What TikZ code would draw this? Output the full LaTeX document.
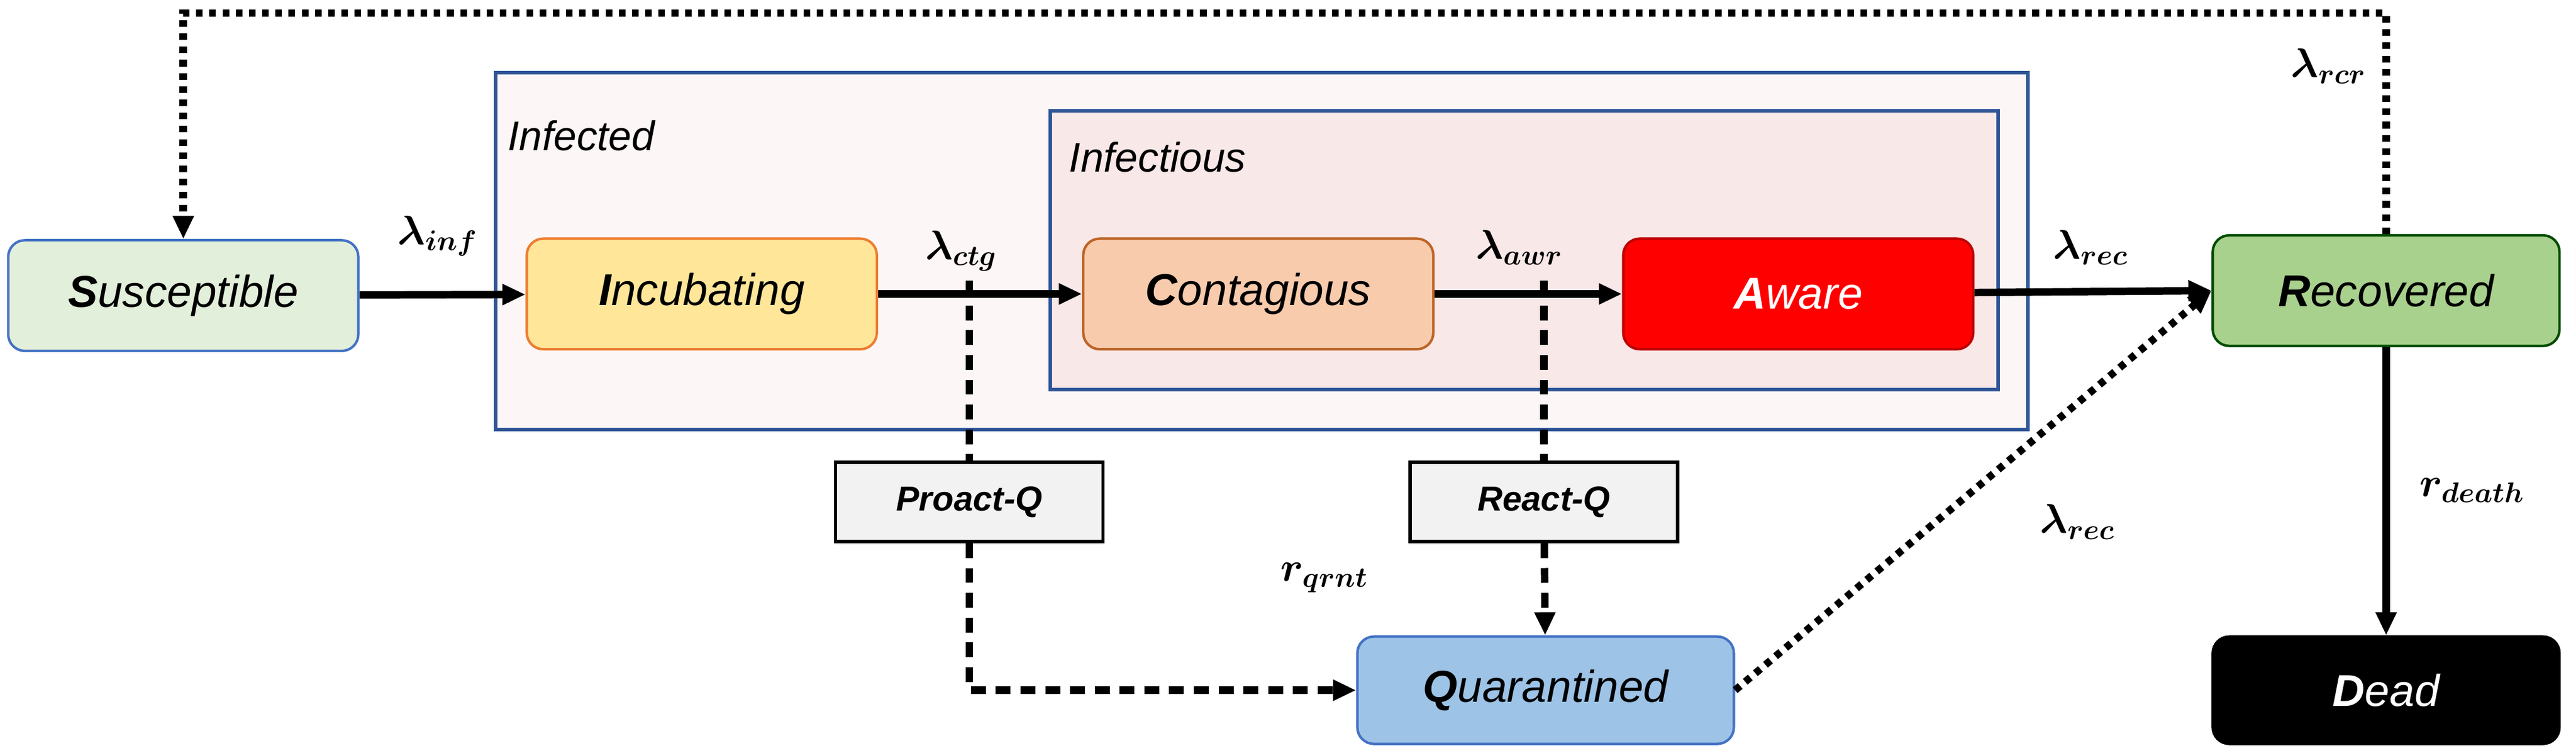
\documentclass[tikz,border=0pt]{standalone}
\usepackage{fontspec}
\setmainfont{Liberation Sans}
\usetikzlibrary{positioning}
\usetikzlibrary{arrows.meta}
\definecolor{susceptible colour}{HTML}{E2EFDA}
\definecolor{incubating colour}{HTML}{FFE699}
\definecolor{contagious colour}{HTML}{F8CBAD}
\definecolor{recovered colour}{HTML}{A9D18E}
\definecolor{quarantined colour}{HTML}{9DC3E6}
\definecolor{infected colour}{HTML}{FDF6F6}
\definecolor{infectious colour}{HTML}{F9E8E8}
\definecolor{group border}{HTML}{2F5597}
\definecolor{light border}{HTML}{4472C4}
\definecolor{orange border}{HTML}{ED7D31}
\tikzset{
    % Arrow shape used everywhere
    >={Triangle[length=14pt, width=12pt]},
%
    % State boxes
    state/.style={
        draw, rounded corners=10pt, line width=1.5pt, minimum width=212pt, minimum height=67pt,
        font=\fontsize{27}{32}\selectfont\itshape},
    policy/.style={
        draw, line width=2pt, fill=black!5, minimum width=162pt, minimum height=48pt,
        font=\fontsize{21}{25}\selectfont\bfseries\itshape},
    group/.style={draw=group border, line width=2.2pt},
    group label/.style={anchor=west, font=\fontsize{25}{30}\selectfont\itshape},
    rate/.style={font=\fontsize{27}{32}\selectfont\boldmath},
%
    % Lines
    flow/.style={line width=4.5pt, ->},
    quarantine/.style={line width=4.5pt, dash pattern=on 9pt off 6pt, ->},
    recur/.style={line width=4.5pt, dash pattern=on 4pt off 4pt, ->},
}
\begin{document}
\begin{tikzpicture}[x=1pt, y=-1pt]
    \useasboundingbox (0,0) rectangle (1560,456);

    % Groups
    \draw [group, fill=infected colour] (300,44) rectangle (1228,260);
    \draw [group, fill=infectious colour] (636,67) rectangle (1210,236);
    \node [group label] (infected label) at (304,82) {Infected};
    \node [group label] (infectious label) at (644,95) {Infectious};

    % States
    \node [state, fill=susceptible colour, draw=light border] (S) at (111,179)
        {\textbf{S}usceptible};
    \node [state, fill=incubating colour, draw=orange border] (I) at (425,178)
        {\textbf{I}ncubating};
    \node [state, fill=contagious colour, draw=orange border!80!black] (C) at (762,178)
        {\textbf{C}ontagious};
    \node [state, fill=red, draw=red!75!black, text=white] (A) at (1089,178)
        {\textbf{A}ware};
    \node [state, fill=recovered colour, draw=black!70!green, minimum width=210pt] (R) at (1445,176)
        {\textbf{R}ecovered};
    \node [state, fill=black, text=white, minimum width=210pt, minimum height=65pt] (D) at (1445,418)
        {\textbf{D}ead};
    \node [state, fill=quarantined colour, draw=light border, minimum width=228pt, minimum height=65pt] (Q) at (936,418)
        {\textbf{Q}uarantined};

    % Policies
    \node [policy] (proact) at (587,304) {Proact-Q};
    \node [policy] (react) at (935,304) {React-Q};

    % Main flow
    \draw [flow] (S) -- (I);
    \draw [flow] (I) -- (C);
    \draw [flow] (C) -- (A);
    \draw [flow] (A) -- (R.west);
    \draw [flow] (R) -- (D);

    % Quarantine branches
    \coordinate (ctg tap) at (587,170);
    \coordinate (awr tap) at (935,170);
    \draw [quarantine, -] (ctg tap) -- (proact);
    \draw [quarantine] (proact) |- (Q);
    \draw [quarantine, -] (awr tap) -- (react);
    \draw [quarantine] (react) -- (Q);

    % Recovery paths
    \coordinate (loop top) at (1445,8);
    \draw [recur] (Q.east) -- (R.west);
    \draw [recur] (R.north) -- (loop top) -| (S.north);

    % Rates
    \node [rate] (l inf) at (265,143) {$\lambda_{inf}$};
    \node [rate] (l ctg) at (582,152) {$\lambda_{ctg}$};
    \node [rate] (l awr) at (920,150) {$\lambda_{awr}$};
    \node [rate] (l rec) at (1266,150) {$\lambda_{rec}$};
    \node [rate] (l rcr) at (1410,40) {$\lambda_{rcr}$};
    \node [rate] (r qrnt) at (802,350) {$r_{qrnt}$};
    \node [rate] (l rec q) at (1258,316) {$\lambda_{rec}$};
    \node [rate] (r death) at (1497,297) {$r_{death}$};
\end{tikzpicture}
\end{document}
